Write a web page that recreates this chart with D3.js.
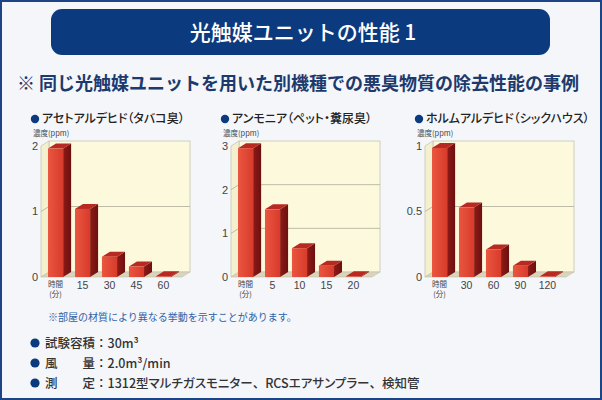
<!DOCTYPE html>
<html>
<head>
<meta charset="utf-8">
<script src="https://cdn.jsdelivr.net/npm/d3@7"></script>
<style>
  html, body { margin: 0; padding: 0; background: #fff; }
  svg { display: block; }
  text { font-family: "Noto Sans CJK JP", "Noto Sans", sans-serif; }
</style>
</head>
<body>
<div id="chart"></div>
<script>
// データ
const pageTitle = "光触媒ユニットの性能 1";
const subTitle = "※ 同じ光触媒ユニットを用いた別機種での悪臭物質の除去性能の事例";
const chartTitles = ["アセトアルデヒド（タバコ臭）", "アンモニア（ペット・糞尿臭）", "ホルムアルデヒド（シックハウス）"];
const yUnit = "濃度(ppm)";
const acetTimes = ["0", "15", "30", "45", "60"];
const ammoTimes = ["0", "5", "10", "15", "20"];
const formTimes = ["0", "30", "60", "90", "120"];
const acetValues = [1.96, 1.04, 0.31, 0.16, 0.01];
const ammoValues = [2.95, 1.55, 0.66, 0.26, 0.015];
const formValues = [0.985, 0.53, 0.21, 0.086, 0.005];
const acetTicks = [0, 1, 2];
const ammoTicks = [0, 1, 2, 3];
const formTicks = [0, 0.5, 1];
const note = "※部屋の材質により異なる挙動を示すことがあります。";
const specLabels = ["試験容積", "風　　量", "測　　定"];
const specValues = ["30m³", "2.0m³/min", "1312型マルチガスモニター、RCSエアサンプラー、検知管"];

const W = 602, H = 400;
const navy = '#0b3a7f';
const svg = d3.select('#chart').append('svg').attr('width', W).attr('height', H);

// 枠と見出し
svg.append('rect').attr('x', 1).attr('y', 1).attr('width', W - 2).attr('height', H - 2)
  .attr('fill', '#f4f6fa').attr('stroke', '#1d4486').attr('stroke-width', 2);
svg.append('rect').attr('x', 51).attr('y', 9).attr('width', 499).attr('height', 46).attr('rx', 11)
  .attr('fill', navy);
svg.append('text').attr('x', 303).attr('y', 32).attr('dy', '0.36em')
  .attr('text-anchor', 'middle').attr('fill', '#fff')
  .attr('font-size', 21).attr('font-weight', 500).text(pageTitle);
svg.append('text').attr('x', 17).attr('y', 84).attr('dy', '0.36em')
  .attr('fill', '#1c3a6e').attr('font-size', 18).attr('font-weight', 700).text(subTitle);

// グラデーション
const defs = svg.append('defs');
const gFront = defs.append('linearGradient').attr('id', 'barFront');
gFront.append('stop').attr('offset', '0%').attr('stop-color', '#ea5640');
gFront.append('stop').attr('offset', '100%').attr('stop-color', '#d83b2b');
const gSide = defs.append('linearGradient').attr('id', 'barSide');
gSide.append('stop').attr('offset', '0%').attr('stop-color', '#8e1a16');
gSide.append('stop').attr('offset', '100%').attr('stop-color', '#6c1010');

// 3D棒グラフ
const dx = 8, dy = -5, pw = 141, yBase = 277, yTop = 146;

function panel(x0, title, times, values, ticks) {
  const g = svg.append('g');
  const x = d3.scaleBand().domain(times).range([x0, x0 + pw - 4]).paddingInner(0.44).paddingOuter(0.26);
  const yMax = d3.max(ticks);
  const y = d3.scaleLinear().domain([0, yMax]).range([yBase, yTop]);

  // タイトル
  g.append('circle').attr('cx', x0 - 6).attr('cy', 119).attr('r', 4.2).attr('fill', navy);
  g.append('text').attr('x', x0 + 1).attr('y', 119).attr('dy', '0.36em')
    .attr('font-size', 12).attr('font-weight', 500).attr('fill', '#222')
    .style('font-feature-settings', '"palt"').text(title);
  g.append('text').attr('x', x0 - 8).attr('y', 133).attr('dy', '0.36em')
    .attr('font-size', 7.5).attr('fill', '#444').text(yUnit);

  // 壁と床
  g.append('rect').attr('x', x0 + dx).attr('y', yTop + dy).attr('width', pw).attr('height', yBase - yTop)
    .attr('fill', '#fdf9dc').attr('stroke', '#c9c6b0').attr('stroke-width', 0.8);
  g.append('path').attr('d', `M${x0},${yTop}L${x0 + dx},${yTop + dy}L${x0 + dx},${yBase + dy}L${x0},${yBase}Z`)
    .attr('fill', '#f4efcd').attr('stroke', '#c9c6b0').attr('stroke-width', 0.8);
  g.append('path').attr('d', `M${x0},${yBase}L${x0 + pw},${yBase}L${x0 + pw + dx},${yBase + dy}L${x0 + dx},${yBase + dy}Z`)
    .attr('fill', '#d9d5bd').attr('stroke', '#c5c1a8').attr('stroke-width', 0.6);

  // 目盛線
  g.selectAll('path.grid').data(ticks.filter(t => t > 0 && t < yMax)).join('path')
    .attr('class', 'grid')
    .attr('d', t => `M${x0},${y(t)}L${x0 + dx},${y(t) + dy}L${x0 + dx + pw},${y(t) + dy}`)
    .attr('fill', 'none').attr('stroke', '#b7b4a0').attr('stroke-width', 0.9);

  g.selectAll('text.ytick').data(ticks).join('text')
    .attr('class', 'ytick')
    .attr('x', x0 - 3).attr('y', t => y(t)).attr('dy', '0.36em')
    .attr('text-anchor', 'end').attr('font-size', 11).attr('fill', '#444')
    .style('font-family', '"Liberation Sans", sans-serif')
    .text(t => t);

  // 棒
  const bw = x.bandwidth();
  const bars = g.selectAll('g.bar').data(times.map((t, i) => ({ t, v: values[i] }))).join('g').attr('class', 'bar');
  bars.append('path')
    .attr('d', d => {
      const xr = x(d.t) + bw, yv = y(d.v);
      return `M${xr},${yv}L${xr + dx},${yv + dy}L${xr + dx},${yBase + dy}L${xr},${yBase}Z`;
    })
    .attr('fill', 'url(#barSide)');
  bars.append('path')
    .attr('d', d => {
      const xl = x(d.t), xr = xl + bw, yv = y(d.v);
      return `M${xl},${yv}L${xl + dx},${yv + dy}L${xr + dx},${yv + dy}L${xr},${yv}Z`;
    })
    .attr('fill', '#b82a21');
  bars.append('rect')
    .attr('x', d => x(d.t)).attr('y', d => y(d.v))
    .attr('width', bw).attr('height', d => yBase - y(d.v))
    .attr('fill', 'url(#barFront)');

  // 横軸ラベル
  times.forEach((t, i) => {
    const cx = x(t) + bw / 2;
    if (i === 0) {
      g.append('text').attr('x', cx).attr('y', 287).attr('text-anchor', 'middle')
        .attr('font-size', 7.5).attr('fill', '#444').text('時間');
      g.append('text').attr('x', cx).attr('y', 297).attr('text-anchor', 'middle')
        .attr('font-size', 7.5).attr('fill', '#444').text('(分)');
    } else {
      g.append('text').attr('x', cx).attr('y', 289).attr('text-anchor', 'middle')
        .attr('font-size', 10.5).attr('fill', '#444')
        .style('font-family', '"Liberation Sans", sans-serif').text(t);
    }
  });
}

panel(41, chartTitles[0], acetTimes, acetValues, acetTicks);
panel(231, chartTitles[1], ammoTimes, ammoValues, ammoTicks);
panel(425, chartTitles[2], formTimes, formValues, formTicks);

// 注記と条件
svg.append('text').attr('x', 48).attr('y', 317).attr('dy', '0.36em')
  .attr('font-size', 10).attr('fill', '#2f62a8').text(note);

const specY = [343, 363, 383];
specLabels.forEach((lab, i) => {
  svg.append('circle').attr('cx', 35).attr('cy', specY[i]).attr('r', 4.6).attr('fill', navy);
  const t = svg.append('text').attr('x', 45).attr('y', specY[i]).attr('dy', '0.36em')
    .attr('font-size', 12.5).attr('font-weight', 500).attr('fill', '#333');
  t.append('tspan').text(lab + '：');
  specValues[i].split('、').forEach((part, j) => {
    if (j > 0) t.append('tspan').text('、');
    t.append('tspan').style('font-feature-settings', '"palt"').text(part);
  });
});
</script>
</body>
</html>
